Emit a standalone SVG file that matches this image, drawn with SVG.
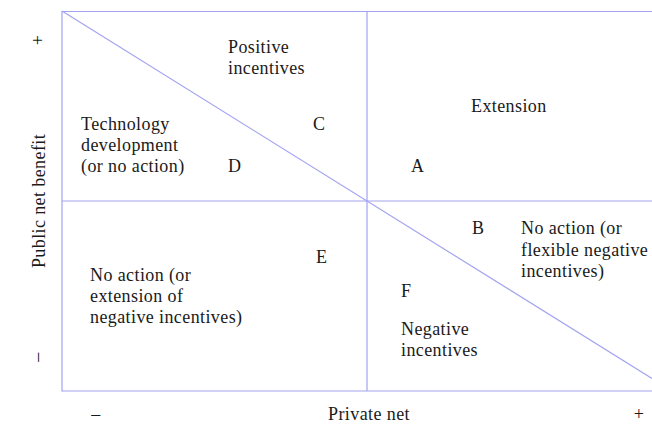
<svg xmlns="http://www.w3.org/2000/svg" width="652" height="425" viewBox="0 0 652 425">
<style>
.ln{stroke:#a3a3f0;stroke-width:1.2;fill:none}
text{font-family:"Liberation Serif","Times New Roman",serif;font-size:18px;fill:#1a1a1a;letter-spacing:0.4px}
</style>
<rect width="652" height="425" fill="#ffffff"/>
<g id="connectors">
<line class="ln" x1="62" y1="11.5" x2="652" y2="11.5"/>
<line class="ln" x1="62" y1="391" x2="652" y2="391"/>
<line class="ln" x1="62" y1="11" x2="62" y2="391.5"/>
<line class="ln" x1="367" y1="11" x2="367" y2="391"/>
<line class="ln" x1="62" y1="201" x2="652" y2="201"/>
<line class="ln" x1="62" y1="11" x2="652" y2="378.5"/>
</g>
<g id="axis-y">
<text transform="translate(44,40) rotate(-90)" text-anchor="middle">+</text>
<text transform="translate(43,357) rotate(-90)" text-anchor="middle">–</text>
<text transform="translate(45,201) rotate(-90)" text-anchor="middle">Public net benefit</text>
</g>
<g id="axis-x">
<text x="96" y="420" text-anchor="middle">–</text>
<text x="369" y="420" text-anchor="middle">Private net</text>
<text x="639" y="420" text-anchor="middle">+</text>
</g>
<g id="positive-incentives">
<text x="228" y="53">Positive</text>
<text x="228" y="74">incentives</text>
</g>
<g id="technology-development">
<text x="81" y="130">Technology</text>
<text x="81" y="151">development</text>
<text x="81" y="172">(or no action)</text>
</g>
<g id="extension"><text x="471" y="112">Extension</text></g>
<g id="no-action-flexible">
<text x="521" y="234">No action (or</text>
<text x="521" y="256">flexible negative</text>
<text x="521" y="277">incentives)</text>
</g>
<g id="no-action-extension">
<text x="90" y="281">No action (or</text>
<text x="90" y="302">extension of</text>
<text x="90" y="323">negative incentives)</text>
</g>
<g id="negative-incentives">
<text x="401" y="335">Negative</text>
<text x="401" y="356">incentives</text>
</g>
<g id="point-A"><text x="411" y="172">A</text></g>
<g id="point-B"><text x="472" y="234">B</text></g>
<g id="point-C"><text x="313" y="130">C</text></g>
<g id="point-D"><text x="228" y="172">D</text></g>
<g id="point-E"><text x="316" y="263">E</text></g>
<g id="point-F"><text x="401" y="297">F</text></g>
</svg>
